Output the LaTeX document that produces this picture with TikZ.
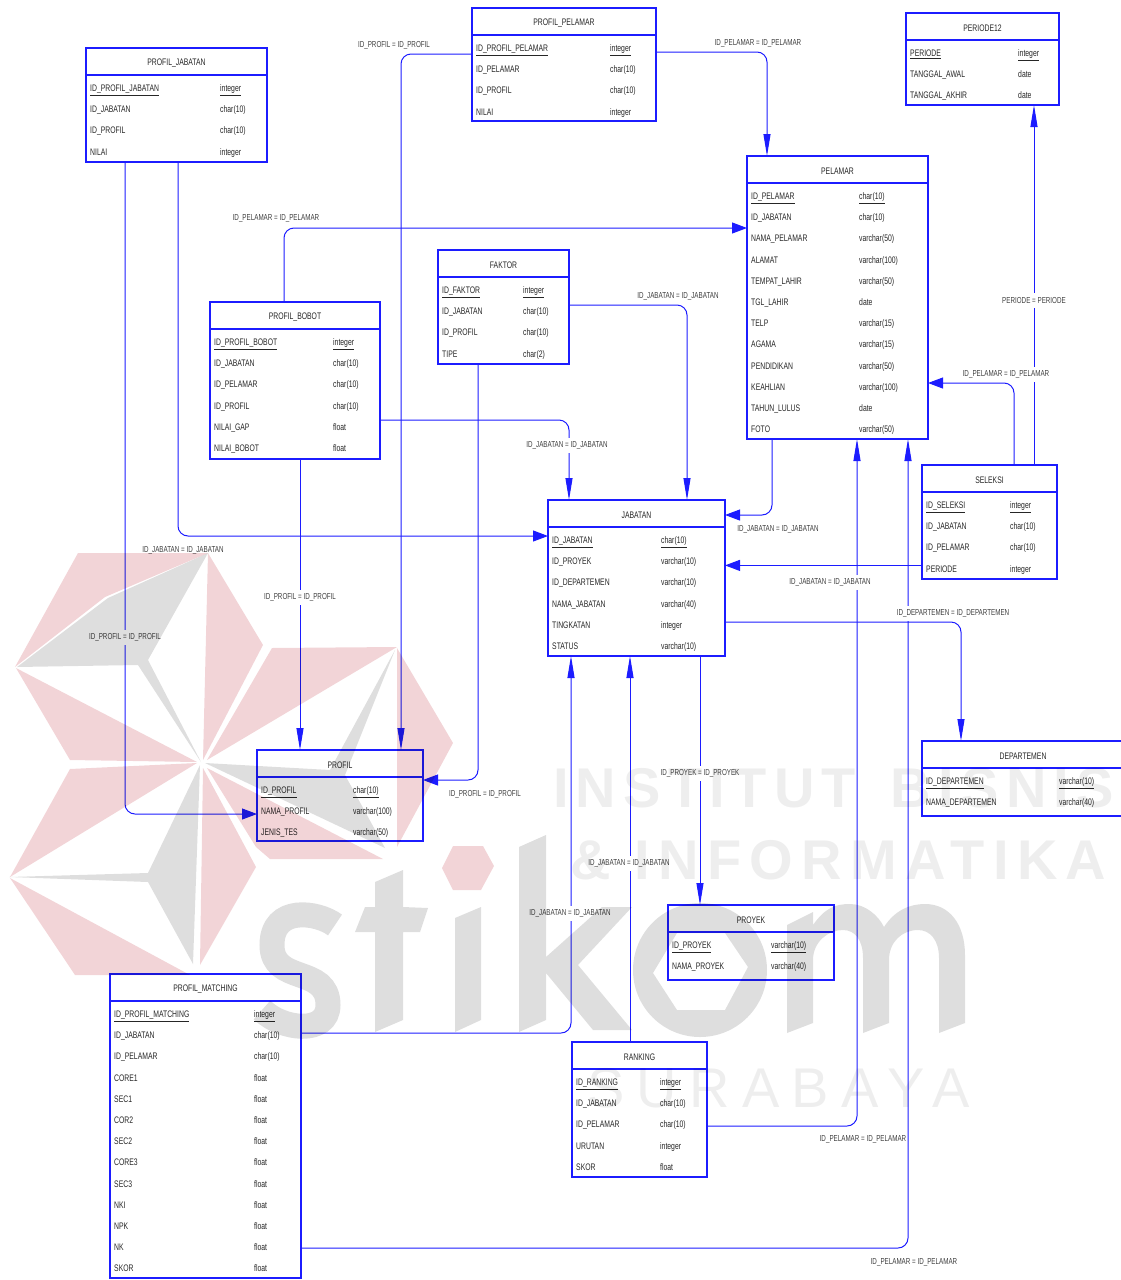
\documentclass[tikz,border=0pt]{standalone}
\usepackage{fontspec}
\setmainfont[FakeStretch=.72]{Liberation Sans}
\newfontfamily\wmbold[LetterSpace=15]{Liberation Sans Bold}
\newfontfamily\wmboldtop[LetterSpace=13]{Liberation Sans Bold}
\newfontfamily\wmplain[LetterSpace=22]{Liberation Sans}
\usetikzlibrary{arrows.meta,calc}
\definecolor{ink}{HTML}{262626}
\definecolor{muted}{HTML}{404040}
\definecolor{edge}{HTML}{1C1CFF}
\definecolor{wmpink}{HTML}{F2D4D7}
\definecolor{wmgrey}{HTML}{DEDEDE}
\definecolor{wmtext}{HTML}{EEEEEE}
\begin{document}
\begin{tikzpicture}[x=1pt,y=-1pt,text=ink,
 font=\fontsize{9.5}{11}\selectfont,
 tbl/.style={draw=edge,line width=1.1pt,anchor=north west,inner sep=0pt,outer sep=0pt},
 title/.style={anchor=center,inner sep=0pt},
 cell/.style={anchor=west,inner sep=0pt,text height=6.5pt,text depth=2pt},
 lbl/.style={font=\fontsize{8.7}{10}\selectfont,text=muted,fill=white,inner xsep=1pt,inner ysep=0pt,minimum height=15pt},
 rel/.style={draw=edge,line width=1pt,rounded corners=10pt},
 relh/.style={rel,-{Triangle[length=15pt,width=11pt]}},
 relv/.style={rel,-{Triangle[length=22pt,width=7pt]}},
 pinkpart/.style={fill=wmpink},
 greypart/.style={fill=wmgrey}]
\path[use as bounding box] (0,0) rectangle (1121,1280);
\foreach \nm/\lft/\tp/\bw/\bh/\tyx/\ttl/\rows in {
 pjabatan/86/48/181/114/134/PROFIL\_JABATAN/{ID\_PROFIL\_JABATAN/integer,ID\_JABATAN/char(10),ID\_PROFIL/char(10),NILAI/integer},
 ppelamar/472/8/184/113/138/PROFIL\_PELAMAR/{ID\_PROFIL\_PELAMAR/integer,ID\_PELAMAR/char(10),ID\_PROFIL/char(10),NILAI/integer},
 periode/906/13/153/92/112/PERIODE12/{PERIODE/integer,TANGGAL\_AWAL/date,TANGGAL\_AKHIR/date},
 pelamar/747/156/181/283/112/PELAMAR/{ID\_PELAMAR/char(10),ID\_JABATAN/char(10),NAMA\_PELAMAR/varchar(50),ALAMAT/varchar(100),TEMPAT\_LAHIR/varchar(50),TGL\_LAHIR/date,TELP/varchar(15),AGAMA/varchar(15),PENDIDIKAN/varchar(50),KEAHLIAN/varchar(100),TAHUN\_LULUS/date,FOTO/varchar(50)},
 faktor/438/250/131/114/85/FAKTOR/{ID\_FAKTOR/integer,ID\_JABATAN/char(10),ID\_PROFIL/char(10),TIPE/char(2)},
 pbobot/210/302/170/157/123/PROFIL\_BOBOT/{ID\_PROFIL\_BOBOT/integer,ID\_JABATAN/char(10),ID\_PELAMAR/char(10),ID\_PROFIL/char(10),NILAI\_GAP/float,NILAI\_BOBOT/float},
 jabatan/548/500/177/156/113/JABATAN/{ID\_JABATAN/char(10),ID\_PROYEK/varchar(10),ID\_DEPARTEMEN/varchar(10),NAMA\_JABATAN/varchar(40),TINGKATAN/integer,STATUS/varchar(10)},
 seleksi/922/465/135/114/88/SELEKSI/{ID\_SELEKSI/integer,ID\_JABATAN/char(10),ID\_PELAMAR/char(10),PERIODE/integer},
 departemen/922/741/202/75/137/DEPARTEMEN/{ID\_DEPARTEMEN/varchar(10),NAMA\_DEPARTEMEN/varchar(40)},
 profil/257/750/166/91/96/PROFIL/{ID\_PROFIL/char(10),NAMA\_PROFIL/varchar(100),JENIS\_TES/varchar(50)},
 proyek/668/905/166/75/103/PROYEK/{ID\_PROYEK/varchar(10),NAMA\_PROYEK/varchar(40)},
 ranking/572/1042/135/135/88/RANKING/{ID\_RANKING/integer,ID\_JABATAN/char(10),ID\_PELAMAR/char(10),URUTAN/integer,SKOR/float},
 pmatching/110/974/191/304/144/PROFIL\_MATCHING/{ID\_PROFIL\_MATCHING/integer,ID\_JABATAN/char(10),ID\_PELAMAR/char(10),CORE1/float,SEC1/float,COR2/float,SEC2/float,CORE3/float,SEC3/float,NKI/float,NPK/float,NK/float,SKOR/float}}{
 \node[tbl,minimum width=\bw pt,minimum height=\bh pt] (\nm) at (\lft,\tp) {};
 \draw[draw=edge,line width=1.1pt] ([yshift=-27pt]\nm.north west) -- ([yshift=-27pt]\nm.north east);
 \node[title] (\nm-title) at ([yshift=-15.6pt]\nm.north) {\ttl};
 \foreach \fld/\typ [count=\i from 0] in \rows {
  \pgfmathsetmacro{\ry}{\tp+41.3+21.2*\i}
  \node[cell] (\nm-f\i) at ({\lft+4},\ry) {\ifnum\i=0 \underline{\fld}\else\fld\fi};
  \node[cell] (\nm-t\i) at ({\lft+\tyx},\ry) {\ifnum\i=0 \underline{\typ}\else\typ\fi};
 }
}
\draw[relv] ([yshift=-46pt]ppelamar.north west) -| ([xshift=144pt]profil.north west);
\draw[relv] ([yshift=-44pt]ppelamar.north east) -| ([xshift=20pt]pelamar.north west);
\draw[relh] ([xshift=39pt]pjabatan.south west) |- ([yshift=-64pt]profil.north west);
\draw[relh] ([xshift=92pt]pjabatan.south west) |- ([yshift=-36pt]jabatan.north west);
\draw[relh] ([xshift=74pt]pbobot.north west) |- ([yshift=-72pt]pelamar.north west);
\draw[relv] ([yshift=-118pt]pbobot.north east) -| ([xshift=21pt]jabatan.north west);
\draw[relv] ([xshift=90pt]pbobot.south west) -- ([xshift=43pt]profil.north west);
\draw[relv] ([yshift=-55pt]faktor.north east) -| ([xshift=139pt]jabatan.north west);
\draw[relh] ([xshift=40pt]faktor.south west) |- ([yshift=-30pt]profil.north east);
\draw[relh] ([xshift=25pt]pelamar.south west) |- ([yshift=-15pt]jabatan.north east);
\draw[relh] ([yshift=-100.4pt]seleksi.north west) -- ([yshift=-65.4pt]jabatan.north east);
\draw[relh] ([xshift=92pt]seleksi.north west) |- ([yshift=-227pt]pelamar.north east);
\draw[relv] ([xshift=112pt]seleksi.north west) -- ([xshift=128pt]periode.south west);
\draw[relv] ([yshift=-122pt]jabatan.north east) -| ([xshift=39pt]departemen.north west);
\draw[relv] ([xshift=152pt]jabatan.south west) -- ([xshift=32pt]proyek.north west);
\draw[relv] ([xshift=58pt]ranking.north west) -- ([xshift=82pt]jabatan.south west);
\draw[relv] ([yshift=-59pt]pmatching.north east) -| ([xshift=23pt]jabatan.south west);
\draw[relv] ([yshift=-84pt]ranking.north east) -| ([xshift=110pt]pelamar.south west);
\draw[relv] ([yshift=-274pt]pmatching.north east) -| ([xshift=161pt]pelamar.south west);
\foreach \lx/\ly/\txt [count=\i] in {
 394/45/ID\_PROFIL = ID\_PROFIL,758/43/ID\_PELAMAR = ID\_PELAMAR,
 125/637/ID\_PROFIL = ID\_PROFIL,183/550/ID\_JABATAN = ID\_JABATAN,
 276/218/ID\_PELAMAR = ID\_PELAMAR,567/445/ID\_JABATAN = ID\_JABATAN,
 300/597/ID\_PROFIL = ID\_PROFIL,678/296/ID\_JABATAN = ID\_JABATAN,
 485/794/ID\_PROFIL = ID\_PROFIL,778/529/ID\_JABATAN = ID\_JABATAN,
 830/582/ID\_JABATAN = ID\_JABATAN,1006/374/ID\_PELAMAR = ID\_PELAMAR,
 1034/300/PERIODE = PERIODE,953/613/ID\_DEPARTEMEN = ID\_DEPARTEMEN,
 700/773/ID\_PROYEK = ID\_PROYEK,629/863/ID\_JABATAN = ID\_JABATAN,
 570/913/ID\_JABATAN = ID\_JABATAN,863/1139/ID\_PELAMAR = ID\_PELAMAR,
 914/1262/ID\_PELAMAR = ID\_PELAMAR}{
 \node[lbl] (lbl\i) at (\lx,\ly) {\txt};
}
\begin{scope}[blend mode=multiply]
 \fill[pinkpart] (78,553) -- (208,553) -- (105,597) -- (15,667) -- cycle;
 \fill[greypart] (208,553) -- (108,598) -- (17,667) -- (138,665) -- (201,762) -- (148,660) -- cycle;
 \fill[pinkpart] (208,553) -- (263,645) -- (203,760) -- cycle;
 \fill[pinkpart] (16,668) -- (70,760) -- (197,762) -- cycle;
 \fill[pinkpart] (272,648) -- (397,647) -- (207,760) -- cycle;
 \fill[pinkpart] (397,648) -- (453,743) -- (397,847) -- cycle;
 \fill[greypart] (205,763) -- (330,770) -- (395,650) -- (345,775) -- (385,848) -- cycle;
 \fill[pinkpart] (207,768) -- (383,859) -- (270,859) -- (256,847) -- cycle;
 \fill[pinkpart] (197,763) -- (70,769) -- (10,877) -- cycle;
 \fill[greypart] (200,765) -- (148,873) -- (9,877) -- (148,882) -- (193,964) -- cycle;
 \fill[pinkpart] (203,768) -- (200,965) -- (256,867) -- cycle;
 \fill[pinkpart] (10,878) -- (75,975) -- (190,975) -- cycle;
 \draw[draw=wmgrey,line width=25pt] (335,925) .. controls (318,912) and (272,905) .. (272,945) .. controls (272,985) and (328,965) .. (328,1005) .. controls (328,1035) and (282,1030) .. (262,1010);
 \fill[greypart] (375,882) -- (403,870) -- (403,907) -- (428,908) -- (420,932) -- (403,932) -- (403,1020) -- (375,1032) -- (375,932) -- (355,932) -- (365,907) -- (375,907) -- cycle;
 \fill[greypart] (455,918) -- (481,907) -- (481,1020) -- (455,1032) -- cycle;
 \fill[pinkpart] (442,868) -- (453,846) -- (483,846) -- (494,866) -- (481,890) -- (453,890) -- cycle;
 \fill[greypart] (519,847) -- (546,835) -- (546,957) -- (602,907) -- (632,907) -- (578,965) -- (632,1030) -- (593,1030) -- (546,973) -- (546,1020) -- (519,1032) -- cycle;
 \fill[greypart,even odd rule] (700,970) circle (67) (653,973) -- (677,933) -- (725,933) -- (748,967) -- (725,1010) -- (677,1010) -- cycle;
 \fill[greypart] (787,1033) -- (787,925) -- (813,912) -- (813,925) .. controls (825,908) and (835,904) .. (850,904) .. controls (865,904) and (878,915) .. (884,927) .. controls (895,910) and (910,904) .. (925,904) .. controls (950,904) and (965,925) .. (965,955) -- (965,1023) -- (939,1033) -- (939,958) .. controls (939,940) and (930,930) .. (918,930) .. controls (902,930) and (889,942) .. (889,960) -- (889,1023) -- (863,1033) -- (863,958) .. controls (863,940) and (855,930) .. (843,930) .. controls (828,930) and (813,942) .. (813,960) -- (813,1023) -- cycle;
 \node[anchor=west,inner sep=0pt,text=wmtext,font=\wmboldtop\fontsize{56}{60}\selectfont] (wmline1) at (553,788) {INSTITUT\hspace{12pt} BISNIS};
 \node[anchor=west,inner sep=0pt,text=wmtext,font=\wmbold\fontsize{56}{60}\selectfont] (wmline2) at (570,860) {\& INFORMATIKA};
 \node[anchor=west,inner sep=0pt,text=wmtext,font=\wmplain\fontsize{56}{60}\selectfont] (wmline3) at (587,1088) {SURABAYA};
\end{scope}
\end{tikzpicture}
\end{document}
